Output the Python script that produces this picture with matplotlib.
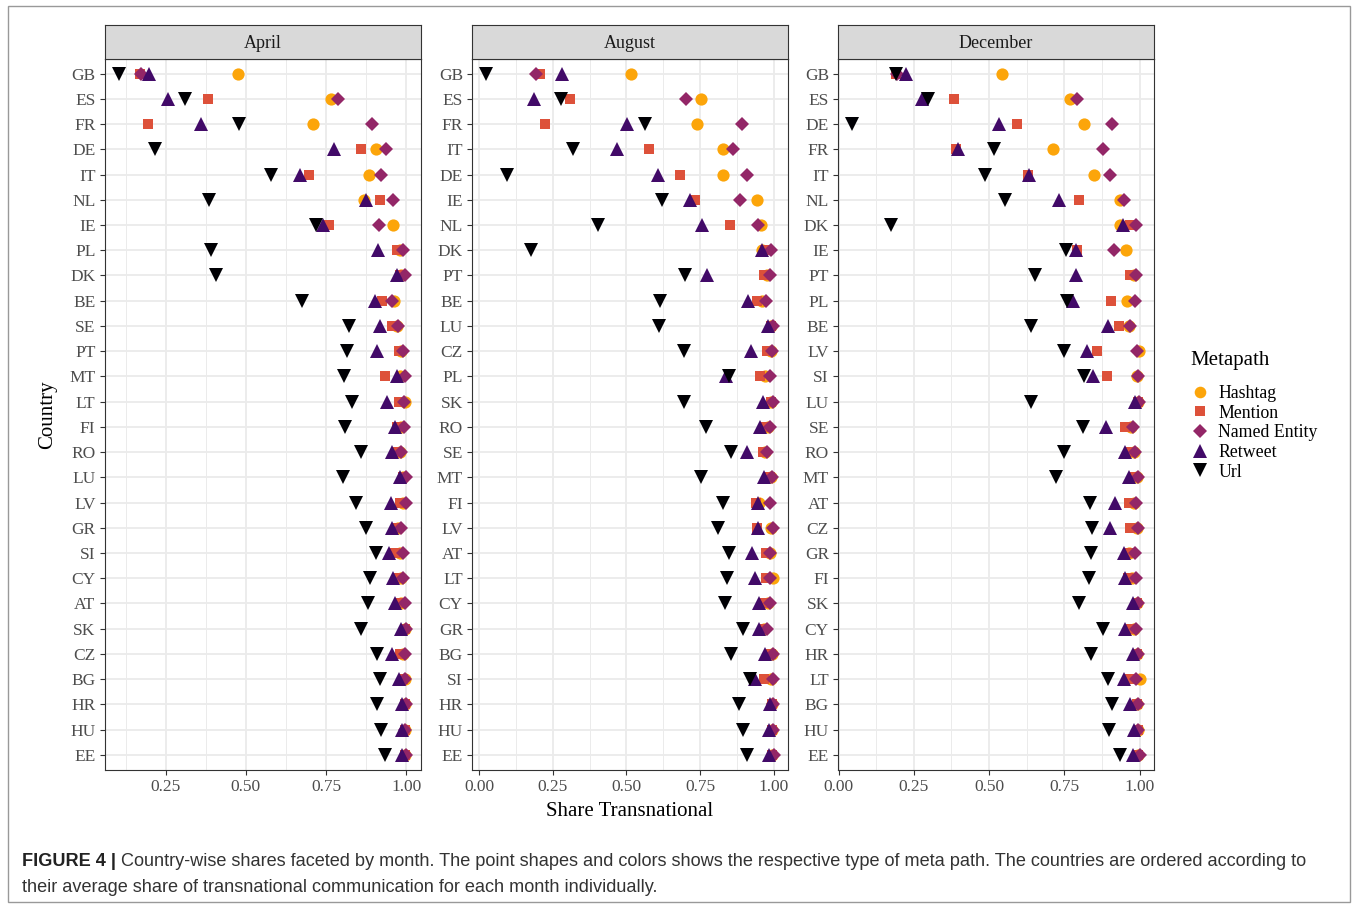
import numpy as np
import matplotlib.pyplot as plt
from matplotlib.lines import Line2D
from matplotlib.patches import Rectangle
from matplotlib.ticker import MultipleLocator, FormatStrFormatter

plt.rcParams['font.family'] = ['Liberation Serif', 'DejaVu Serif']

months = ['April', 'August', 'December']
metapaths = ['Hashtag', 'Mention', 'Named Entity', 'Retweet', 'Url']

# April (countries top to bottom)
apr_countries = ['GB', 'ES', 'FR', 'DE', 'IT', 'NL', 'IE', 'PL', 'DK', 'BE', 'SE', 'PT', 'MT', 'LT',
                 'FI', 'RO', 'LU', 'LV', 'GR', 'SI', 'CY', 'AT', 'SK', 'CZ', 'BG', 'HR', 'HU', 'EE']
apr_hashtag = [.475, .765, .711, .906, .883, .869, .960, .980, .985, .962, .970, .985, .980, .995,
               .985, .980, .990, .990, .975, .980, .985, .985, .995, .990, .998, .995, .995, .995]
apr_mention = [.169, .382, .196, .860, .696, .920, .760, .970, .980, .926, .957, .978, .934, .978,
               .970, .968, .990, .980, .970, .965, .975, .980, .995, .980, .990, .995, .995, .995]
apr_entity = [.174, .786, .895, .938, .923, .959, .915, .990, .995, .957, .976, .990, .998, .993,
              .993, .985, 1.0, 1.0, .985, .990, .990, .995, 1.0, .998, .998, 1.0, .998, 1.0]
apr_retweet = [.198, .258, .360, .775, .669, .876, .742, .912, .972, .903, .918, .910, .970, .939,
               .965, .957, .980, .954, .957, .946, .960, .964, .985, .955, .978, .988, .986, .988]
apr_url = [.104, .310, .478, .217, .577, .385, .720, .390, .408, .674, .822, .816, .807, .830,
           .809, .858, .803, .843, .874, .907, .886, .881, .860, .908, .917, .910, .923, .934]

# August
aug_countries = ['GB', 'ES', 'FR', 'IT', 'DE', 'IE', 'NL', 'DK', 'PT', 'BE', 'LU', 'CZ', 'PL', 'SK',
                 'RO', 'SE', 'MT', 'FI', 'LV', 'AT', 'LT', 'CY', 'GR', 'BG', 'SI', 'HR', 'HU', 'EE']
aug_hashtag = [.515, .753, .738, .828, .829, .943, .955, .958, .975, .960, .990, .990, .970, .990,
               .980, .970, .990, .950, .990, .985, .997, .980, .965, .995, .990, .993, .995, .995]
aug_mention = [.208, .309, .225, .575, .680, .733, .851, .970, .966, .944, .990, .978, .953, .990,
               .970, .962, .985, .940, .944, .974, .974, .970, .965, .990, .965, .993, .995, .995]
aug_entity = [.194, .701, .893, .861, .910, .884, .947, .991, .985, .972, .997, .992, .985, .997,
              .985, .975, .995, .985, .997, .988, .988, .985, .976, .997, .997, .997, .998, .999]
aug_retweet = [.281, .185, .502, .467, .606, .716, .756, .961, .773, .912, .981, .921, .837, .964,
               .953, .908, .966, .946, .947, .927, .935, .950, .950, .970, .937, .985, .983, .983]
aug_url = [.025, .278, .562, .318, .094, .619, .405, .177, .698, .615, .610, .694, .846, .694,
           .770, .855, .753, .828, .812, .846, .840, .835, .894, .855, .918, .882, .896, .910]

# December
dec_countries = ['GB', 'ES', 'DE', 'FR', 'IT', 'NL', 'DK', 'IE', 'PT', 'PL', 'BE', 'LV', 'SI', 'LU',
                 'SE', 'RO', 'MT', 'AT', 'CZ', 'GR', 'FI', 'SK', 'CY', 'HR', 'LT', 'BG', 'HU', 'EE']
dec_hashtag = [.544, .769, .816, .712, .848, .936, .934, .956, .980, .959, .965, .997, .990, .995,
               .970, .980, .990, .980, .990, .965, .975, .990, .980, .990, 1.0, .990, .995, .995]
dec_mention = [.190, .382, .592, .390, .630, .799, .967, .793, .969, .906, .931, .860, .890, .995,
               .953, .969, .980, .965, .969, .965, .960, .990, .970, .990, .965, .990, .995, .995]
dec_entity = [.195, .791, .909, .879, .903, .948, .989, .914, .989, .983, .969, .991, .994, .997,
              .978, .986, .996, .989, .996, .983, .989, .996, .989, .996, .989, .996, .996, 1.0]
dec_retweet = [.223, .278, .534, .396, .632, .731, .945, .789, .789, .780, .896, .824, .844, .983,
               .887, .953, .965, .918, .901, .948, .950, .978, .953, .978, .947, .969, .981, .978]
dec_url = [.192, .297, .046, .516, .486, .552, .173, .755, .652, .758, .639, .749, .815, .639,
           .811, .749, .723, .835, .841, .838, .832, .797, .877, .839, .896, .909, .899, .934]

panels = [
    (apr_countries, [apr_hashtag, apr_mention, apr_entity, apr_retweet, apr_url]),
    (aug_countries, [aug_hashtag, aug_mention, aug_entity, aug_retweet, aug_url]),
    (dec_countries, [dec_hashtag, dec_mention, dec_entity, dec_retweet, dec_url]),
]

W, H = 1358, 906
fig = plt.figure(figsize=(W / 100, H / 100), dpi=100)

def fx(px):
    return px / W

def fy(py):
    return 1 - py / H

cmap = plt.get_cmap('inferno')
colors = [cmap(0.8), cmap(0.6), cmap(0.4), cmap(0.2), cmap(0.0)]
markers = ['o', 's', 'D', '^', 'v']
msizes = [8.8, 7.3, 7.4, 10.0, 10.0]

panel_left = [104.5, 472, 838]
panel_w = 316
top, bottom = 58.5, 770
strip_top = 25
dark = '#333333'

for i, (countries, series) in enumerate(panels):
    ax = fig.add_axes([fx(panel_left[i]), fy(bottom), fx(panel_w), fy(top) - fy(bottom)])
    n = len(countries)
    ypos = np.arange(n)[::-1] + 1
    allv = np.concatenate([np.array(s) for s in series])
    lo, hi = allv.min(), allv.max()
    pad = 0.05 * (hi - lo)
    ax.set_xlim(lo - pad, hi + pad)
    ax.set_ylim(0.4, n + 0.6)

    for k, vals in enumerate(series):
        ax.plot(vals, ypos, linestyle='none', marker=markers[k], color=colors[k],
                markersize=msizes[k], markeredgewidth=0, zorder=3 + k)

    ax.xaxis.set_major_locator(MultipleLocator(0.25))
    ax.xaxis.set_minor_locator(MultipleLocator(0.125))
    ax.xaxis.set_major_formatter(FormatStrFormatter('%.2f'))
    ax.set_yticks(ypos)
    ax.set_yticklabels(countries)
    ax.grid(which='major', color='#EBEBEB', linewidth=1.3, zorder=0)
    ax.grid(which='minor', axis='x', color='#EBEBEB', linewidth=0.7, zorder=0)
    ax.set_axisbelow(True)
    ax.tick_params(which='major', length=3.5, width=0.8, color=dark,
                   labelcolor='#4D4D4D', labelsize=12.5, pad=3)
    ax.tick_params(which='minor', length=0)
    for sp in ax.spines.values():
        sp.set_color(dark)
        sp.set_linewidth(0.8)

    sax = fig.add_axes([fx(panel_left[i]), fy(top), fx(panel_w), fy(strip_top) - fy(top)])
    sax.set_facecolor('#D9D9D9')
    sax.set_xticks([])
    sax.set_yticks([])
    for sp in sax.spines.values():
        sp.set_color(dark)
        sp.set_linewidth(0.8)
    sax.text(0.5, 0.45, months[i], ha='center', va='center', fontsize=13, color='#1A1A1A')

fig.text(fx(48), fy(415), 'Country', rotation=90, ha='center', va='center', fontsize=15)
fig.text(fx(630), fy(811), 'Share Transnational', ha='center', va='center', fontsize=15)

# legend: title drawn separately for the ggplot-like gap
fig.text(fx(1190), fy(360), 'Metapath', ha='left', va='center', fontsize=15)
handles = [Line2D([], [], linestyle='none', marker=markers[k], color=colors[k],
                  markersize=msizes[k] * 0.95, markeredgewidth=0) for k in range(5)]
leg = fig.legend(handles, metapaths, loc='upper left', bbox_to_anchor=(fx(1173), fy(369)),
                 frameon=False, fontsize=12.8, handlelength=1.2, handletextpad=0.45,
                 labelspacing=0.15)

# caption
cap1 = fig.text(fx(22), fy(866), 'FIGURE 4 |', fontsize=13.1, fontweight='bold',
                family='Liberation Sans', color='#222222', va='baseline')
fig.axes[0].annotate(' Country-wise shares faceted by month. The point shapes and colors shows the '
                     'respective type of meta path. The countries are ordered according to',
                     xy=(1, 0), xycoords=cap1, va='bottom', ha='left', fontsize=13.1,
                     family='Liberation Sans', color='#333333', annotation_clip=False)
fig.text(fx(22), fy(892), 'their average share of transnational communication for each month individually.',
         fontsize=13.1, family='Liberation Sans', color='#333333', va='baseline')

fig.patches.append(Rectangle((fx(8), fy(902)), fx(1350) - fx(8), fy(6) - fy(902),
                             transform=fig.transFigure, fill=False, edgecolor='#999999', linewidth=1))

fig.savefig('out.png', dpi=100)
